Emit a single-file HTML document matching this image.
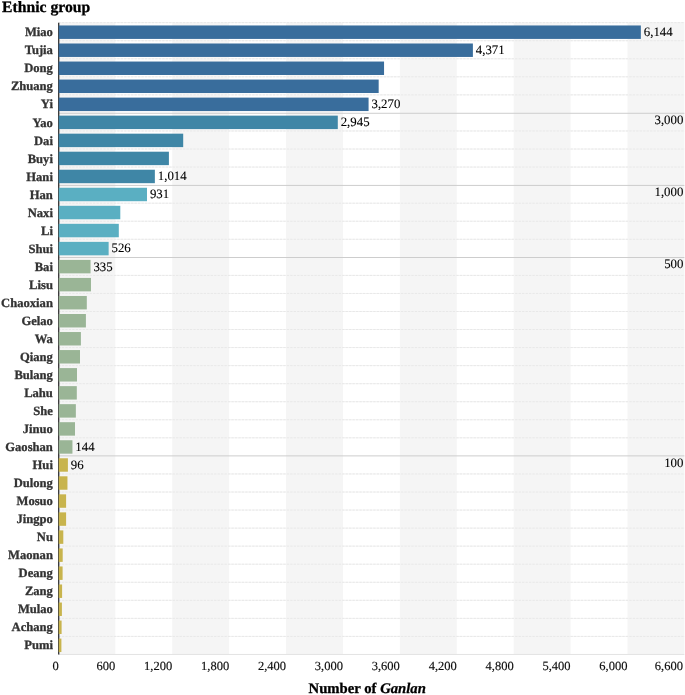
<!DOCTYPE html>
<html><head><meta charset="utf-8"><title>Number of Ganlan by ethnic group</title>
<style>html,body{margin:0;padding:0;background:#fff}body{width:685px;height:695px;overflow:hidden}svg{display:block;will-change:transform}text{font-family:"Liberation Serif",serif;text-rendering:geometricPrecision}</style>
</head><body>
<svg width="685" height="695" viewBox="0 0 685 695">
<rect x="0" y="0" width="685" height="695" fill="#ffffff"/>
<g fill="#f5f5f5">
<rect x="58.42" y="22.67" width="56.91" height="631.78"/>
<rect x="172.23" y="22.67" width="56.91" height="631.78"/>
<rect x="286.05" y="22.67" width="56.91" height="631.78"/>
<rect x="399.86" y="22.67" width="56.91" height="631.78"/>
<rect x="513.68" y="22.67" width="56.91" height="631.78"/>
<rect x="627.49" y="22.67" width="56.91" height="631.78"/>
</g>
<g stroke="#f4f4f4" stroke-width="1" fill="none">
<line x1="58.42" y1="22.67" x2="684.40" y2="22.67"/>
<line x1="58.42" y1="40.72" x2="684.40" y2="40.72"/>
<line x1="58.42" y1="58.77" x2="684.40" y2="58.77"/>
<line x1="58.42" y1="76.82" x2="684.40" y2="76.82"/>
<line x1="58.42" y1="94.87" x2="684.40" y2="94.87"/>
<line x1="58.42" y1="130.98" x2="684.40" y2="130.98"/>
<line x1="58.42" y1="149.03" x2="684.40" y2="149.03"/>
<line x1="58.42" y1="167.08" x2="684.40" y2="167.08"/>
<line x1="58.42" y1="203.18" x2="684.40" y2="203.18"/>
<line x1="58.42" y1="221.23" x2="684.40" y2="221.23"/>
<line x1="58.42" y1="239.28" x2="684.40" y2="239.28"/>
<line x1="58.42" y1="275.38" x2="684.40" y2="275.38"/>
<line x1="58.42" y1="293.44" x2="684.40" y2="293.44"/>
<line x1="58.42" y1="311.49" x2="684.40" y2="311.49"/>
<line x1="58.42" y1="329.54" x2="684.40" y2="329.54"/>
<line x1="58.42" y1="347.59" x2="684.40" y2="347.59"/>
<line x1="58.42" y1="365.64" x2="684.40" y2="365.64"/>
<line x1="58.42" y1="383.69" x2="684.40" y2="383.69"/>
<line x1="58.42" y1="401.74" x2="684.40" y2="401.74"/>
<line x1="58.42" y1="419.79" x2="684.40" y2="419.79"/>
<line x1="58.42" y1="437.84" x2="684.40" y2="437.84"/>
<line x1="58.42" y1="473.94" x2="684.40" y2="473.94"/>
<line x1="58.42" y1="492.00" x2="684.40" y2="492.00"/>
<line x1="58.42" y1="510.05" x2="684.40" y2="510.05"/>
<line x1="58.42" y1="528.10" x2="684.40" y2="528.10"/>
<line x1="58.42" y1="546.15" x2="684.40" y2="546.15"/>
<line x1="58.42" y1="564.20" x2="684.40" y2="564.20"/>
<line x1="58.42" y1="582.25" x2="684.40" y2="582.25"/>
<line x1="58.42" y1="600.30" x2="684.40" y2="600.30"/>
<line x1="58.42" y1="618.35" x2="684.40" y2="618.35"/>
<line x1="58.42" y1="636.40" x2="684.40" y2="636.40"/>
</g>
<g stroke="#e8e8e8" stroke-width="1" stroke-dasharray="2.3 1.16" fill="none">
<line x1="58.42" y1="22.67" x2="684.40" y2="22.67"/>
<line x1="58.42" y1="40.72" x2="684.40" y2="40.72"/>
<line x1="58.42" y1="58.77" x2="684.40" y2="58.77"/>
<line x1="58.42" y1="76.82" x2="684.40" y2="76.82"/>
<line x1="58.42" y1="94.87" x2="684.40" y2="94.87"/>
<line x1="58.42" y1="130.98" x2="684.40" y2="130.98"/>
<line x1="58.42" y1="149.03" x2="684.40" y2="149.03"/>
<line x1="58.42" y1="167.08" x2="684.40" y2="167.08"/>
<line x1="58.42" y1="203.18" x2="684.40" y2="203.18"/>
<line x1="58.42" y1="221.23" x2="684.40" y2="221.23"/>
<line x1="58.42" y1="239.28" x2="684.40" y2="239.28"/>
<line x1="58.42" y1="275.38" x2="684.40" y2="275.38"/>
<line x1="58.42" y1="293.44" x2="684.40" y2="293.44"/>
<line x1="58.42" y1="311.49" x2="684.40" y2="311.49"/>
<line x1="58.42" y1="329.54" x2="684.40" y2="329.54"/>
<line x1="58.42" y1="347.59" x2="684.40" y2="347.59"/>
<line x1="58.42" y1="365.64" x2="684.40" y2="365.64"/>
<line x1="58.42" y1="383.69" x2="684.40" y2="383.69"/>
<line x1="58.42" y1="401.74" x2="684.40" y2="401.74"/>
<line x1="58.42" y1="419.79" x2="684.40" y2="419.79"/>
<line x1="58.42" y1="437.84" x2="684.40" y2="437.84"/>
<line x1="58.42" y1="473.94" x2="684.40" y2="473.94"/>
<line x1="58.42" y1="492.00" x2="684.40" y2="492.00"/>
<line x1="58.42" y1="510.05" x2="684.40" y2="510.05"/>
<line x1="58.42" y1="528.10" x2="684.40" y2="528.10"/>
<line x1="58.42" y1="546.15" x2="684.40" y2="546.15"/>
<line x1="58.42" y1="564.20" x2="684.40" y2="564.20"/>
<line x1="58.42" y1="582.25" x2="684.40" y2="582.25"/>
<line x1="58.42" y1="600.30" x2="684.40" y2="600.30"/>
<line x1="58.42" y1="618.35" x2="684.40" y2="618.35"/>
<line x1="58.42" y1="636.40" x2="684.40" y2="636.40"/>
</g>
<g stroke="#cdcdcd" stroke-width="1" fill="none">
<line x1="58.42" y1="113.28" x2="684.40" y2="113.28"/>
<line x1="58.42" y1="185.42" x2="684.40" y2="185.42"/>
<line x1="58.42" y1="257.50" x2="684.40" y2="257.50"/>
<line x1="58.42" y1="455.89" x2="684.40" y2="455.89"/>
</g>
<line x1="58.42" y1="654.45" x2="684.40" y2="654.45" stroke="#e3e3e3" stroke-width="1"/>
<line x1="58.70" y1="22.67" x2="58.70" y2="654.45" stroke="#333333" stroke-width="1.3"/>
<rect x="58.75" y="25.47" width="582.10" height="13.45" fill="#396d9c"/>
<rect x="58.75" y="43.50" width="414.14" height="13.45" fill="#396d9c"/>
<rect x="58.75" y="61.54" width="325.30" height="13.45" fill="#396d9c"/>
<rect x="58.75" y="79.57" width="319.92" height="13.45" fill="#396d9c"/>
<rect x="58.75" y="97.60" width="309.83" height="13.45" fill="#396d9c"/>
<rect x="58.75" y="115.64" width="279.04" height="13.45" fill="#3f86a6"/>
<rect x="58.75" y="133.67" width="124.45" height="13.45" fill="#3f86a6"/>
<rect x="58.75" y="151.70" width="110.15" height="13.45" fill="#3f86a6"/>
<rect x="58.75" y="169.73" width="96.11" height="13.45" fill="#3f86a6"/>
<rect x="58.75" y="187.77" width="88.25" height="13.45" fill="#5aafc2"/>
<rect x="58.75" y="205.80" width="61.55" height="13.45" fill="#5aafc2"/>
<rect x="58.75" y="223.83" width="60.05" height="13.45" fill="#5aafc2"/>
<rect x="58.75" y="241.87" width="49.88" height="13.45" fill="#5aafc2"/>
<rect x="58.75" y="259.90" width="31.79" height="13.45" fill="#9ab596"/>
<rect x="58.75" y="277.93" width="32.22" height="13.45" fill="#9ab596"/>
<rect x="58.75" y="295.97" width="28.05" height="13.45" fill="#9ab596"/>
<rect x="58.75" y="314.00" width="27.15" height="13.45" fill="#9ab596"/>
<rect x="58.75" y="332.03" width="22.15" height="13.45" fill="#9ab596"/>
<rect x="58.75" y="350.06" width="21.25" height="13.45" fill="#9ab596"/>
<rect x="58.75" y="368.10" width="18.25" height="13.45" fill="#9ab596"/>
<rect x="58.75" y="386.13" width="18.05" height="13.45" fill="#9ab596"/>
<rect x="58.75" y="404.16" width="17.10" height="13.45" fill="#9ab596"/>
<rect x="58.75" y="422.20" width="16.25" height="13.45" fill="#9ab596"/>
<rect x="58.75" y="440.23" width="13.69" height="13.45" fill="#9ab596"/>
<rect x="58.75" y="458.26" width="9.14" height="13.45" fill="#c8b44d"/>
<rect x="58.75" y="476.30" width="8.70" height="13.45" fill="#c8b44d"/>
<rect x="58.75" y="494.33" width="7.35" height="13.45" fill="#c8b44d"/>
<rect x="58.75" y="512.36" width="7.35" height="13.45" fill="#c8b44d"/>
<rect x="58.75" y="530.39" width="4.55" height="13.45" fill="#c8b44d"/>
<rect x="58.75" y="548.43" width="3.95" height="13.45" fill="#c8b44d"/>
<rect x="58.75" y="566.46" width="3.85" height="13.45" fill="#c8b44d"/>
<rect x="58.75" y="584.49" width="3.35" height="13.45" fill="#c8b44d"/>
<rect x="58.75" y="602.53" width="3.15" height="13.45" fill="#c8b44d"/>
<rect x="58.75" y="620.56" width="2.85" height="13.45" fill="#c8b44d"/>
<rect x="58.75" y="638.59" width="2.65" height="13.45" fill="#c8b44d"/>
<g font-size="12.6" font-weight="bold" fill="#333333" stroke="#333333" stroke-width="0.3" text-anchor="end">
<text x="52.90" y="35.97">Miao</text>
<text x="52.90" y="54.01">Tujia</text>
<text x="52.90" y="72.05">Dong</text>
<text x="52.90" y="90.09">Zhuang</text>
<text x="52.90" y="108.13">Yi</text>
<text x="52.90" y="126.57">Yao</text>
<text x="52.90" y="144.61">Dai</text>
<text x="52.90" y="162.65">Buyi</text>
<text x="52.90" y="180.69">Hani</text>
<text x="52.90" y="198.73">Han</text>
<text x="52.90" y="216.77">Naxi</text>
<text x="52.90" y="234.81">Li</text>
<text x="52.90" y="252.85">Shui</text>
<text x="52.90" y="270.89">Bai</text>
<text x="52.90" y="288.93">Lisu</text>
<text x="52.90" y="306.57">Chaoxian</text>
<text x="52.90" y="324.61">Gelao</text>
<text x="52.90" y="342.65">Wa</text>
<text x="52.90" y="360.69">Qiang</text>
<text x="52.90" y="378.73">Bulang</text>
<text x="52.90" y="396.77">Lahu</text>
<text x="52.90" y="414.81">She</text>
<text x="52.90" y="432.85">Jinuo</text>
<text x="52.90" y="450.89">Gaoshan</text>
<text x="52.90" y="468.93">Hui</text>
<text x="52.90" y="486.97">Dulong</text>
<text x="52.90" y="505.01">Mosuo</text>
<text x="52.90" y="523.05">Jingpo</text>
<text x="52.90" y="541.09">Nu</text>
<text x="52.90" y="559.13">Maonan</text>
<text x="52.90" y="577.17">Deang</text>
<text x="52.90" y="595.21">Zang</text>
<text x="52.90" y="613.25">Mulao</text>
<text x="52.90" y="631.29">Achang</text>
<text x="52.90" y="649.33">Pumi</text>
</g>
<g font-size="12.85" fill="#000000" stroke="#000000" stroke-width="0.1">
<text x="643.75" y="35.87">6,144</text>
<text x="475.79" y="53.92">4,371</text>
<text x="371.48" y="108.07">3,270</text>
<text x="340.69" y="126.12">2,945</text>
<text x="157.76" y="180.28">1,014</text>
<text x="149.90" y="198.33">931</text>
<text x="111.53" y="252.48">526</text>
<text x="93.44" y="270.53">335</text>
<text x="75.34" y="451.04">144</text>
<text x="70.79" y="469.09">96</text>
</g>
<g font-size="12.85" fill="#000000" stroke="#000000" stroke-width="0.1" text-anchor="end">
<text x="683.40" y="124.03">3,000</text>
<text x="683.40" y="196.17">1,000</text>
<text x="683.40" y="268.25">500</text>
<text x="683.40" y="466.64">100</text>
</g>
<g font-size="12.5" fill="#0d0d0d" stroke="#0d0d0d" stroke-width="0.15" text-anchor="end">
<text x="58.67" y="669.70">0</text>
<text x="115.33" y="669.70">600</text>
<text x="172.23" y="669.70">1,200</text>
<text x="229.14" y="669.70">1,800</text>
<text x="286.05" y="669.70">2,400</text>
<text x="342.96" y="669.70">3,000</text>
<text x="399.86" y="669.70">3,600</text>
<text x="456.77" y="669.70">4,200</text>
<text x="513.68" y="669.70">4,800</text>
<text x="570.59" y="669.70">5,400</text>
<text x="627.49" y="669.70">6,000</text>
<text x="682.95" y="669.70">6,600</text>
</g>
<text x="2.0" y="12.0" font-size="15.7" font-weight="bold" fill="#000000" stroke="#000000" stroke-width="0.3">Ethnic group</text>
<text x="308.6" y="692.9" font-size="14.7" font-weight="bold" fill="#000000" stroke="#000000" stroke-width="0.3">Number of <tspan font-style="italic">Ganlan</tspan></text>
</svg>
</body></html>
